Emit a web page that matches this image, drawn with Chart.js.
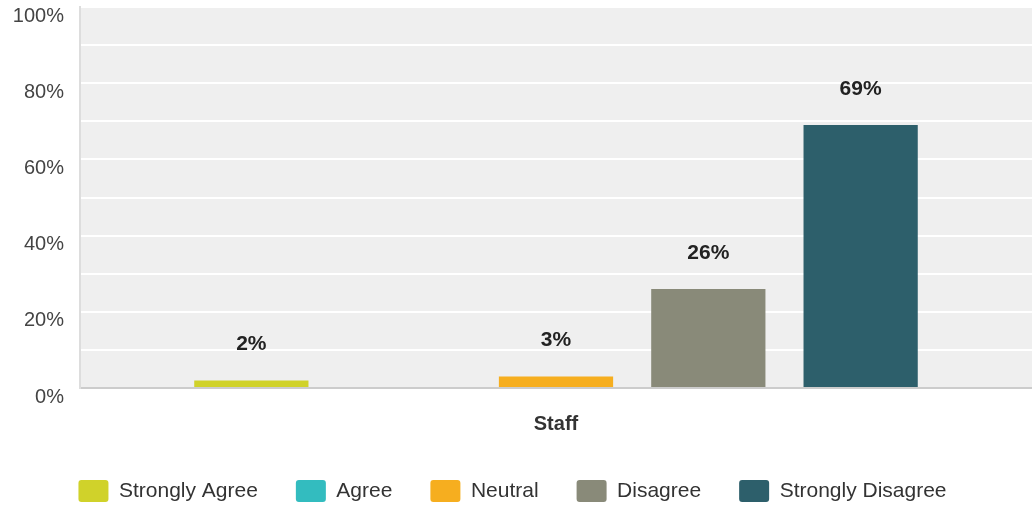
<!DOCTYPE html>
<html>
<head>
<meta charset="utf-8">
<script src="https://cdn.jsdelivr.net/npm/chart.js@4/dist/chart.umd.min.js"></script>
<style>
  html, body { margin: 0; padding: 0; background: #fff; }
  #wrap { width: 1032px; height: 506px; }
</style>
</head>
<body>
<div id="wrap"><canvas id="surveyChart"></canvas></div>
<script>
const categories = ['Staff'];
const seriesNames = ['Strongly Agree', 'Agree', 'Neutral', 'Disagree', 'Strongly Disagree'];
const seriesValues = [[2], [0], [3], [26], [69]];
const seriesColors = ['#d0d22a', '#33bcbf', '#f6ae1f', '#898a79', '#2d5f6b'];

// grey plot background behind the grid
const plotBackground = {
  id: 'plotBackground',
  beforeDraw(chart) {
    const { ctx, chartArea: a } = chart;
    ctx.save();
    ctx.fillStyle = '#efefef';
    ctx.fillRect(a.left, a.top, a.right - a.left, a.bottom - a.top);
    ctx.restore();
  }
};

// percent labels above each bar
const barLabels = {
  id: 'barLabels',
  afterDatasetsDraw(chart) {
    const { ctx } = chart;
    ctx.save();
    ctx.font = 'bold 21px "Liberation Sans", Arial, sans-serif';
    ctx.fillStyle = '#222';
    ctx.textAlign = 'center';
    ctx.textBaseline = 'middle';
    chart.data.datasets.forEach((ds, i) => {
      chart.getDatasetMeta(i).data.forEach((bar, j) => {
        const v = ds.data[j];
        if (!v) return;
        ctx.fillText(v + '%', bar.x, bar.y - 36);
      });
    });
    ctx.restore();
  }
};

// legend sits a little left of centre in the original
const legendShift = {
  id: 'legendShift',
  afterLayout(chart) {
    chart.legend.left -= 10;
    chart.legend.right -= 10;
  }
};

new Chart(document.getElementById('surveyChart'), {
  type: 'bar',
  data: {
    labels: categories,
    datasets: seriesNames.map((name, i) => ({
      label: name,
      data: seriesValues[i],
      backgroundColor: seriesColors[i],
      categoryPercentage: 0.8,
      barPercentage: 0.75
    }))
  },
  options: {
    responsive: true,
    maintainAspectRatio: false,
    animation: false,
    layout: { padding: { left: 13, top: 7, right: 0, bottom: 0 } },
    scales: {
      x: {
        grid: { display: false, drawTicks: false },
        border: { color: '#cccccc', width: 2 },
        ticks: {
          padding: 22,
          color: '#333',
          font: { family: '"Liberation Sans", Arial, sans-serif', size: 20, weight: 'bold', lineHeight: 1.4 }
        },
        afterFit: (scale) => { scale.height = 54; }
      },
      y: {
        min: 0,
        max: 100,
        grid: { color: '#ffffff', lineWidth: 2, drawTicks: false },
        border: { color: '#dddddd', width: 2 },
        ticks: {
          stepSize: 10,
          padding: 16,
          labelOffset: 9,
          color: '#444',
          font: { family: '"Liberation Sans", Arial, sans-serif', size: 20 },
          callback: (v) => (v % 20 === 0 ? v + '%' : '')
        },
        afterFit: (scale) => {
          scale.width = 67;
          scale.paddingTop = 0;
          scale.paddingBottom = 0;
        }
      }
    },
    plugins: {
      tooltip: { enabled: false },
      legend: {
        position: 'bottom',
        maxHeight: 64,
        labels: {
          boxWidth: 30,
          boxHeight: 22,
          padding: 38,
          useBorderRadius: true,
          borderRadius: 3,
          color: '#333',
          font: { family: '"Liberation Sans", Arial, sans-serif', size: 21 }
        }
      }
    }
  },
  plugins: [plotBackground, barLabels, legendShift]
});
</script>
</body>
</html>
